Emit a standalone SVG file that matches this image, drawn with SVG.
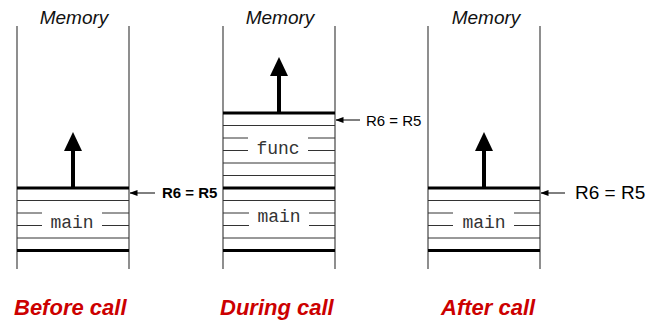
<svg xmlns="http://www.w3.org/2000/svg" width="650" height="323" viewBox="0 0 650 323">
<defs>
<marker id="ah" markerWidth="8" markerHeight="6" refX="7.5" refY="3" orient="auto" markerUnits="userSpaceOnUse">
<path d="M0,0 L8,3 L0,6 Z" fill="#000"/>
</marker>
<style>
.wall{stroke:#444;stroke-width:1.2;fill:none}
.thick{stroke:#000;stroke-width:3;fill:none}
.thin{stroke:#333;stroke-width:1;fill:none}
.mem{font-family:"Liberation Sans",Arial,sans-serif;font-style:italic;font-size:19px;fill:#111;text-anchor:middle}
.code{font-family:"Liberation Mono","Courier New",monospace;font-size:18px;fill:#333;text-anchor:middle}
.cap{font-family:"Liberation Sans",Arial,sans-serif;font-style:italic;font-weight:bold;font-size:22px;fill:#cc0000}
.lbl{font-family:"Liberation Sans",Arial,sans-serif;fill:#000}
.ptr{stroke:#000;stroke-width:1;fill:none;marker-end:url(#ah)}
.up{fill:#000}
</style>
</defs>

<g id="panel-before">
<text class="mem" x="74" y="24">Memory</text>
<line class="wall" x1="17" y1="26" x2="17" y2="269"/>
<line class="wall" x1="129" y1="26" x2="129" y2="269"/>
<line class="thick" x1="17" y1="188" x2="129" y2="188"/>
<line class="thin" x1="17" y1="200.5" x2="129" y2="200.5"/>
<line class="thin" x1="17" y1="213" x2="42" y2="213"/>
<line class="thin" x1="102" y1="213" x2="129" y2="213"/>
<line class="thin" x1="17" y1="225.5" x2="42" y2="225.5"/>
<line class="thin" x1="102" y1="225.5" x2="129" y2="225.5"/>
<line class="thin" x1="17" y1="238" x2="129" y2="238"/>
<line class="thick" x1="17" y1="250.5" x2="129" y2="250.5"/>
<text class="code" x="72" y="228">main</text>
<rect class="up" x="71" y="150" width="4" height="38"/>
<path class="up" d="M73,132 L82,151 L64,151 Z"/>
<text class="cap" x="14" y="315">Before call</text>
</g>

<g id="panel-during">
<text class="mem" x="280" y="24">Memory</text>
<line class="wall" x1="223" y1="26" x2="223" y2="269"/>
<line class="wall" x1="335" y1="26" x2="335" y2="269"/>
<line class="thick" x1="223" y1="113" x2="335" y2="113"/>
<line class="thin" x1="223" y1="125.5" x2="335" y2="125.5"/>
<line class="thin" x1="223" y1="138" x2="248" y2="138"/>
<line class="thin" x1="308" y1="138" x2="335" y2="138"/>
<line class="thin" x1="223" y1="150.5" x2="248" y2="150.5"/>
<line class="thin" x1="308" y1="150.5" x2="335" y2="150.5"/>
<line class="thin" x1="223" y1="163" x2="335" y2="163"/>
<line class="thin" x1="223" y1="175.5" x2="335" y2="175.5"/>
<line class="thick" x1="223" y1="188" x2="335" y2="188"/>
<line class="thin" x1="223" y1="200.5" x2="335" y2="200.5"/>
<line class="thin" x1="223" y1="213" x2="249" y2="213"/>
<line class="thin" x1="309" y1="213" x2="335" y2="213"/>
<line class="thin" x1="223" y1="225.5" x2="249" y2="225.5"/>
<line class="thin" x1="309" y1="225.5" x2="335" y2="225.5"/>
<line class="thin" x1="223" y1="238" x2="335" y2="238"/>
<line class="thick" x1="223" y1="250.5" x2="335" y2="250.5"/>
<text class="code" x="278" y="154">func</text>
<text class="code" x="279" y="222">main</text>
<rect class="up" x="277" y="74" width="4" height="39"/>
<path class="up" d="M279,57 L288,76 L270,76 Z"/>
<text class="cap" x="220" y="315">During call</text>
</g>

<g id="panel-after">
<text class="mem" x="486" y="24">Memory</text>
<line class="wall" x1="428" y1="26" x2="428" y2="269"/>
<line class="wall" x1="540" y1="26" x2="540" y2="269"/>
<line class="thick" x1="428" y1="188" x2="540" y2="188"/>
<line class="thin" x1="428" y1="200.5" x2="540" y2="200.5"/>
<line class="thin" x1="428" y1="213" x2="453" y2="213"/>
<line class="thin" x1="514" y1="213" x2="540" y2="213"/>
<line class="thin" x1="428" y1="225.5" x2="453" y2="225.5"/>
<line class="thin" x1="514" y1="225.5" x2="540" y2="225.5"/>
<line class="thin" x1="428" y1="238" x2="540" y2="238"/>
<line class="thick" x1="428" y1="250.5" x2="540" y2="250.5"/>
<text class="code" x="484" y="228">main</text>
<rect class="up" x="482" y="150" width="4" height="38"/>
<path class="up" d="M484,132 L493,151 L475,151 Z"/>
<text class="cap" x="441" y="315">After call</text>
</g>

<g id="labels">
<text class="lbl" x="162" y="198" font-size="15" font-weight="bold">R6 = R5</text>
<text class="lbl" x="366" y="126" font-size="15">R6 = R5</text>
<text class="lbl" x="575" y="199" font-size="19">R6 = R5</text>
</g>

<g id="connectors">
<line class="ptr" x1="155" y1="193" x2="130" y2="193"/>
<line class="ptr" x1="360" y1="120" x2="336" y2="120"/>
<line class="ptr" x1="565" y1="193" x2="541" y2="193"/>
</g>
</svg>
